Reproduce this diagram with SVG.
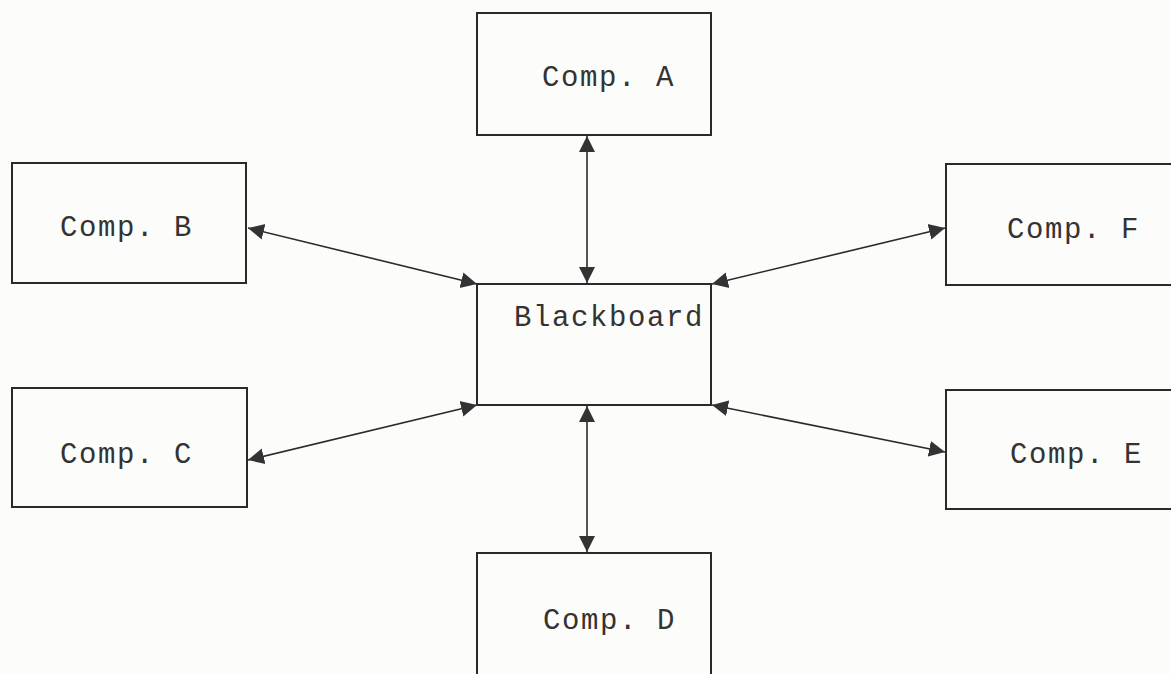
<svg xmlns="http://www.w3.org/2000/svg" width="1171" height="674" viewBox="0 0 1171 674">
<style>
.box{fill:none;stroke:#2a2a2a;stroke-width:2}
.lbl{font-family:"Liberation Mono","DejaVu Sans Mono",monospace;font-size:29px;letter-spacing:1.6px;fill:#333}
.con{stroke:#2a2a2a;stroke-width:1.6;fill:none;marker-start:url(#ah);marker-end:url(#ah)}
</style>
<defs>
<marker id="ah" markerUnits="userSpaceOnUse" markerWidth="18" markerHeight="18" refX="16" refY="8" orient="auto-start-reverse" viewBox="0 0 18 16">
<path d="M0,0 L16,8 L0,16 Z" fill="#333"/>
</marker>
</defs>
<rect width="1171" height="674" fill="#fcfcfa"/>
<g id="connectors">
<line class="con" x1="587" y1="136" x2="587" y2="283"/>
<line class="con" x1="248" y1="228" x2="477" y2="284"/>
<line class="con" x1="712" y1="284" x2="945" y2="228"/>
<line class="con" x1="477" y1="405" x2="248" y2="460"/>
<line class="con" x1="712" y1="405" x2="945" y2="452"/>
<line class="con" x1="587" y1="406" x2="587" y2="552"/>
</g>
<g id="compA"><rect class="box" x="477" y="13" width="234" height="122"/><text class="lbl" x="542" y="86">Comp. A</text></g>
<g id="blackboard"><rect class="box" x="477" y="284" width="234" height="121"/><text class="lbl" x="514" y="326">Blackboard</text></g>
<g id="compB"><rect class="box" x="12" y="163" width="234" height="120"/><text class="lbl" x="60" y="236">Comp. B</text></g>
<g id="compF"><rect class="box" x="946" y="164" width="240" height="121"/><text class="lbl" x="1007" y="238">Comp. F</text></g>
<g id="compC"><rect class="box" x="12" y="388" width="235" height="119"/><text class="lbl" x="60" y="463">Comp. C</text></g>
<g id="compE"><rect class="box" x="946" y="390" width="240" height="119"/><text class="lbl" x="1010" y="463">Comp. E</text></g>
<g id="compD"><rect class="box" x="477" y="553" width="234" height="140"/><text class="lbl" x="543" y="629">Comp. D</text></g>
</svg>
